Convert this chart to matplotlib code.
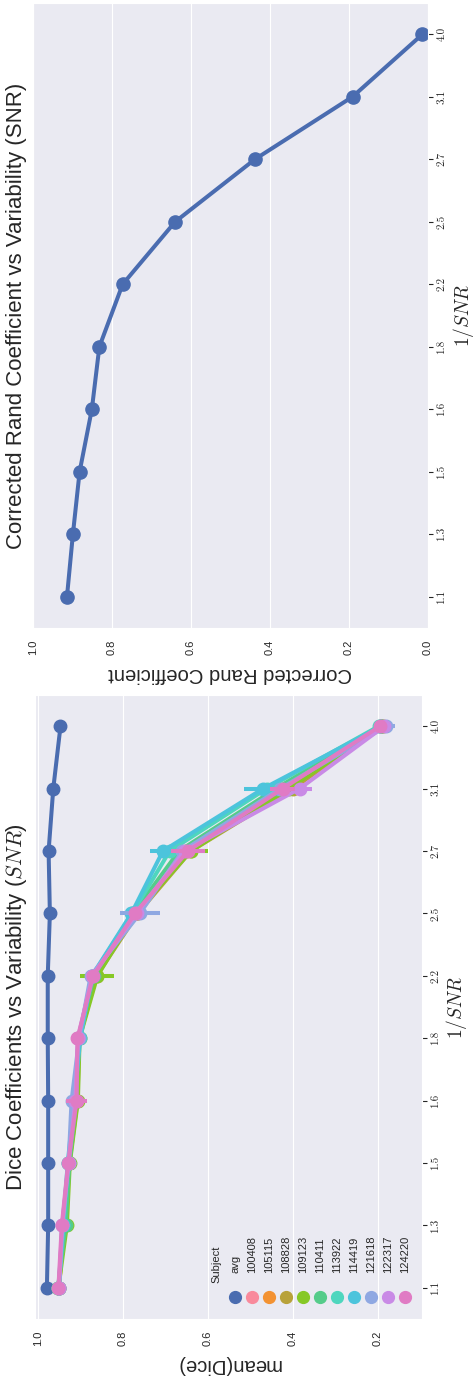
import numpy as np
import matplotlib
matplotlib.use("Agg")
import matplotlib.pyplot as plt
import seaborn as sns

sns.set_style("darkgrid")
plt.rcParams["font.family"] = ["Liberation Sans", "DejaVu Sans"]
plt.rcParams["mathtext.fontset"] = "cm"

# ---- data -------------------------------------------------------------
snr_labels = ["1.1", "1.3", "1.5", "1.6", "1.8", "2.2", "2.5", "2.7", "3.1", "4.0"]

rand_coef = [0.914, 0.899, 0.882, 0.851, 0.832, 0.773, 0.640, 0.438, 0.191, 0.014]

dice_avg = [0.979, 0.976, 0.976, 0.976, 0.977, 0.977, 0.972, 0.975, 0.964, 0.947]

subjects = ["100408", "105115", "108828", "109123", "110411",
            "113922", "114419", "121618", "122317", "124220"]

dice_100408 = [0.951, 0.942, 0.928, 0.910, 0.905, 0.868, 0.770, 0.655, 0.430, 0.192]
dice_105115 = [0.950, 0.940, 0.927, 0.908, 0.904, 0.866, 0.768, 0.650, 0.418, 0.190]
dice_108828 = [0.951, 0.938, 0.926, 0.907, 0.903, 0.862, 0.765, 0.640, 0.400, 0.193]
dice_109123 = [0.952, 0.932, 0.925, 0.906, 0.902, 0.860, 0.770, 0.640, 0.410, 0.188]
dice_110411 = [0.953, 0.935, 0.926, 0.910, 0.904, 0.868, 0.776, 0.668, 0.440, 0.196]
dice_113922 = [0.952, 0.940, 0.929, 0.912, 0.905, 0.872, 0.778, 0.690, 0.462, 0.198]
dice_114419 = [0.951, 0.941, 0.930, 0.915, 0.900, 0.873, 0.780, 0.706, 0.470, 0.192]
dice_121618 = [0.950, 0.943, 0.928, 0.921, 0.903, 0.876, 0.760, 0.660, 0.430, 0.180]
dice_122317 = [0.951, 0.943, 0.928, 0.912, 0.906, 0.872, 0.768, 0.655, 0.384, 0.185]
dice_124220 = [0.952, 0.944, 0.929, 0.909, 0.907, 0.870, 0.772, 0.647, 0.424, 0.195]

# half-widths of the confidence intervals
ci_100408 = [0.004, 0.005, 0.004, 0.006, 0.005, 0.008, 0.012, 0.020, 0.025, 0.012]
ci_105115 = [0.004, 0.005, 0.004, 0.006, 0.005, 0.010, 0.012, 0.022, 0.030, 0.012]
ci_108828 = [0.004, 0.006, 0.005, 0.006, 0.006, 0.010, 0.012, 0.020, 0.028, 0.012]
ci_109123 = [0.004, 0.010, 0.005, 0.006, 0.006, 0.040, 0.012, 0.040, 0.030, 0.014]
ci_110411 = [0.004, 0.005, 0.005, 0.006, 0.005, 0.008, 0.012, 0.020, 0.025, 0.012]
ci_113922 = [0.004, 0.005, 0.005, 0.006, 0.005, 0.008, 0.014, 0.025, 0.030, 0.012]
ci_114419 = [0.004, 0.005, 0.005, 0.006, 0.006, 0.008, 0.014, 0.030, 0.045, 0.014]
ci_121618 = [0.004, 0.005, 0.005, 0.008, 0.005, 0.008, 0.047, 0.020, 0.025, 0.020]
ci_122317 = [0.004, 0.005, 0.005, 0.006, 0.005, 0.008, 0.012, 0.020, 0.030, 0.016]
ci_124220 = [0.004, 0.005, 0.005, 0.024, 0.005, 0.008, 0.012, 0.040, 0.030, 0.014]

dice_subjects = [dice_100408, dice_105115, dice_108828, dice_109123, dice_110411,
                 dice_113922, dice_114419, dice_121618, dice_122317, dice_124220]
ci_subjects = [ci_100408, ci_105115, ci_108828, ci_109123, ci_110411,
               ci_113922, ci_114419, ci_121618, ci_122317, ci_124220]

# ---- styling ----------------------------------------------------------
avg_color = "#4A6CB0"
subject_colors = ["#F98A9C", "#F39232", "#B8A23A", "#86C826", "#55CC8A",
                  "#4ED6BE", "#4CC4DC", "#8FA8E2", "#C98AE6", "#E07BC4"]
LW = 2.9
MS = 9.0
TICK_FS = 8
LABEL_FS = 14.6
TITLE_FS = 16
CAT_FONT = "cmr10"

W, H = 473, 1385
fig = plt.figure(figsize=(W / 100, H / 100), dpi=100)

pos = np.arange(len(snr_labels))


def px_axes(left, top, right, bottom):
    return fig.add_axes([left / W, 1 - bottom / H, (right - left) / W, (bottom - top) / H])


def style_axes(ax, value_ticks, xlabel):
    ax.set_ylim(-0.5, len(snr_labels) - 0.5)
    ax.set_xticks(value_ticks)
    ax.set_xticklabels([f"{v:.1f}" for v in value_ticks], rotation=90,
                       fontsize=TICK_FS, va="top", ha="center")
    ax.tick_params(axis="x", pad=5)
    ax.yaxis.tick_right()
    ax.set_yticks(pos)
    ax.set_yticklabels(snr_labels, rotation=90, va="center", ha="left",
                       fontsize=TICK_FS, family=CAT_FONT)
    ax.tick_params(axis="y", pad=3)
    ax.yaxis.grid(False)
    ax.yaxis.set_label_position("right")
    ax.set_ylabel("$1/SNR$", fontsize=LABEL_FS - 0.6, rotation=90, labelpad=3)
    ax.set_xlabel(xlabel, fontsize=LABEL_FS, rotation=180, labelpad=6)


# ---- Corrected Rand coefficient --------------------------------------
ax1 = px_axes(33, 3, 428, 628)
ax1.plot(rand_coef, pos, color=avg_color, lw=LW, marker="o", ms=MS + 0.5,
         solid_capstyle="round")
ax1.set_xlim(1.0, 0.0)
style_axes(ax1, [0.0, 0.2, 0.4, 0.6, 0.8, 1.0], "Corrected Rand Coefficient")
fig.text(17 / W, 1 - 315.5 / H, "Corrected Rand Coefficient vs Variability (SNR)",
         rotation=90, ha="center", va="center", fontsize=TITLE_FS)

# ---- Dice coefficients -----------------------------------------------
ax2 = px_axes(35, 695, 421.7, 1319)
ax2.plot(dice_avg, pos, color=avg_color, lw=LW, marker="o", ms=MS, zorder=3)
for vals, ci, col in zip(dice_subjects, ci_subjects, subject_colors):
    ax2.errorbar(vals, pos, xerr=ci, fmt="none", ecolor=col, elinewidth=LW,
                 capsize=0, zorder=3)
    ax2.plot(vals, pos, color=col, lw=LW, marker="o", ms=MS, zorder=3)
ax2.set_xlim(1.007, 0.097)
style_axes(ax2, [0.2, 0.4, 0.6, 0.8, 1.0], "mean(Dice)")
fig.text(17 / W, 1 - 1007 / H, "Dice Coefficients vs Variability ($SNR$)",
         rotation=90, ha="center", va="center", fontsize=TITLE_FS)

# legend for the Dice panel, laid out along the bottom edge
ax_w, ax_h = 421.7 - 35, 1319 - 695
legend_names = ["avg"] + subjects
legend_colors = [avg_color] + list(subject_colors)
x0, dx = (235 - 35) / ax_w, 17 / ax_w
marker_y = (1319 - 1297) / ax_h
text_y = (1319 - 1273) / ax_h
for i, (name, col) in enumerate(zip(legend_names, legend_colors)):
    ax2.plot([x0 + i * dx], [marker_y], marker="o", ms=8.5, color=col,
             transform=ax2.transAxes, clip_on=False, zorder=5)
    ax2.text(x0 + i * dx, text_y, name, rotation=90, ha="center", va="bottom",
             fontsize=TICK_FS, transform=ax2.transAxes)
ax2.text(x0 - 1.1 * dx, (1319 - 1283) / ax_h, "Subject", rotation=90,
         ha="center", va="bottom", fontsize=TICK_FS, transform=ax2.transAxes)

fig.savefig("out.png", dpi=100)
